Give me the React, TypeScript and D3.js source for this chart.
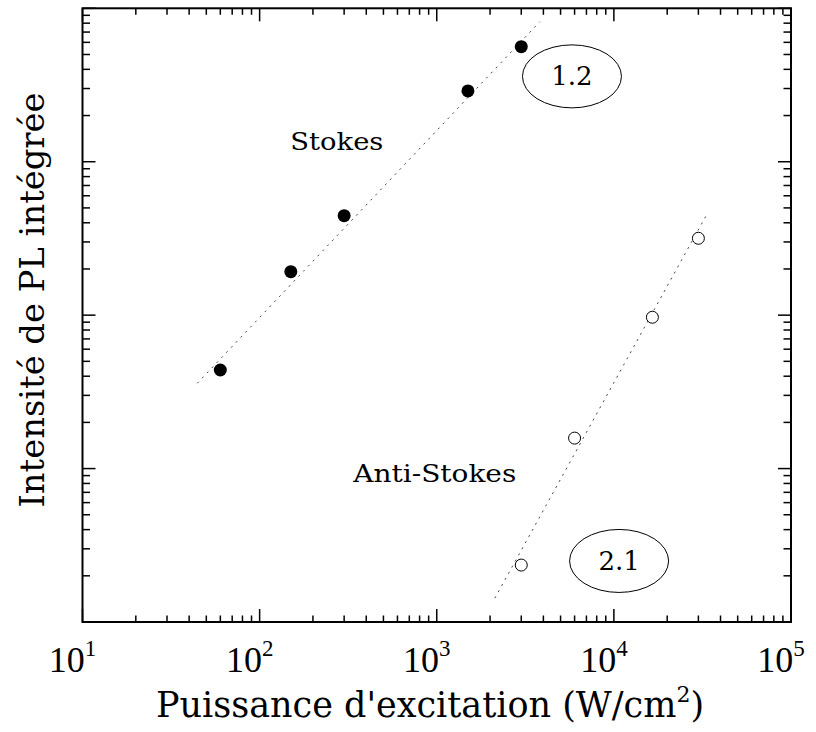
import React from "react";
import * as d3 from "d3";

// ---- data ----
const stokesX = [60, 150, 300, 1500, 3000];
const stokesY = [43.9, 192, 445, 2894, 5625];
const antiX = [3000, 6000, 16500, 30000];
const antiY = [2.35, 15.8, 96.9, 317];
const stokesFitX = [44.5, 3820];
const stokesFitY = [36, 8180];
const antiFitX = [2128, 33350];
const antiFitY = [1.43, 450];
const xTickPowers = [1, 2, 3, 4, 5];
const exponentLabels = [
  { text: "1.2", x: 5800, y: 3600 },
  { text: "2.1", x: 10700, y: 2.5 },
];
const seriesLabels = [
  { text: "Stokes", x: 273, y: 1194, w: 93 },
  { text: "Anti-Stokes", x: 975, y: 8.18, w: 163 },
];

const W = 816;
const H = 732;
const L = 82.5, R = 791, T = 8.3, B = 622;

export default function App() {
  const x = d3.scaleLog().domain([10, 1e5]).range([L, R]);
  const y = d3.scaleLog().domain([1, 1e4]).range([B, T]);
  const xt = x.ticks();
  const yt = y.ticks();
  const isMajor = (v: number) => Math.abs(Math.log10(v) - Math.round(Math.log10(v))) < 1e-6;
  const line = d3.line<[number, number]>().x((d) => x(d[0])).y((d) => y(d[1]));
  const serif = "'DejaVu Serif', serif";
  const times = "'Liberation Serif', serif";

  return (
    <svg width={W} height={H} style={{ position: "absolute", left: 0, top: 0, background: "#fff" }}>
      <rect x={0} y={0} width={W} height={H} fill="#fff" />
      {/* fit lines */}
      <path d={line(stokesFitX.map((v, i) => [v, stokesFitY[i]]) as any) || ""} stroke="#444" strokeWidth={1} strokeDasharray="2,5" fill="none" />
      <path d={line(antiFitX.map((v, i) => [v, antiFitY[i]]) as any) || ""} stroke="#444" strokeWidth={1} strokeDasharray="2,5" fill="none" />
      {/* points */}
      {stokesX.map((v, i) => (
        <circle key={"s" + i} cx={x(v)} cy={y(stokesY[i])} r={6.5} fill="#000" />
      ))}
      {antiX.map((v, i) => (
        <circle key={"a" + i} cx={x(v)} cy={y(antiY[i])} r={6} fill="#fff" stroke="#000" strokeWidth={1} />
      ))}
      {/* ticks */}
      {xt.map((v, i) => {
        const len = isMajor(v) ? 13 : 6.5;
        return (
          <g key={"xt" + i}>
            <line x1={x(v)} x2={x(v)} y1={B} y2={B - len} stroke="#000" strokeWidth={1.5} />
            <line x1={x(v)} x2={x(v)} y1={T} y2={T + len} stroke="#000" strokeWidth={1.5} />
          </g>
        );
      })}
      {yt.map((v, i) => {
        const len = isMajor(v) ? 13 : 7.5;
        return (
          <g key={"yt" + i}>
            <line x1={L} x2={L + len} y1={y(v)} y2={y(v)} stroke="#000" strokeWidth={1.5} />
            <line x1={R} x2={R - len} y1={y(v)} y2={y(v)} stroke="#000" strokeWidth={1.5} />
          </g>
        );
      })}
      <rect x={L} y={T} width={R - L} height={B - T} fill="none" stroke="#000" strokeWidth={2} />
      {/* tick labels */}
      {xTickPowers.map((p) => (
        <text key={"xl" + p} x={x(Math.pow(10, p)) - 10} y={672} textAnchor="middle" fontFamily={times} fontSize={36} fill="#000">
          10<tspan dy={-16} fontSize={23}>{p}</tspan>
        </text>
      ))}
      {/* axis titles */}
      <text x={430} y={717} textAnchor="middle" fontFamily={serif} fontSize={35} fill="#000">
        Puissance d'excitation (W/cm<tspan dy={-15} fontSize={22}>2</tspan><tspan dy={15}>)</tspan>
      </text>
      <text transform="translate(44,300) rotate(-90)" textAnchor="middle" fontFamily={serif} fontSize={33} textLength={415} lengthAdjust="spacingAndGlyphs" fill="#000">
        Intensité de PL intégrée
      </text>
      {/* labels */}
      {seriesLabels.map((s, i) => (
        <text key={"sl" + i} x={x(s.x)} y={y(s.y)} textAnchor="middle" fontFamily={serif} fontSize={24} textLength={s.w} lengthAdjust="spacingAndGlyphs" fill="#000">
          {s.text}
        </text>
      ))}
      {exponentLabels.map((s, i) => (
        <g key={"el" + i}>
          <ellipse cx={x(s.x)} cy={y(s.y)} rx={49.5} ry={31.5} fill="none" stroke="#000" strokeWidth={1} />
          <text x={x(s.x)} y={y(s.y) + 9} textAnchor="middle" fontFamily={serif} fontSize={26} fill="#000">
            {s.text}
          </text>
        </g>
      ))}
    </svg>
  );
}
